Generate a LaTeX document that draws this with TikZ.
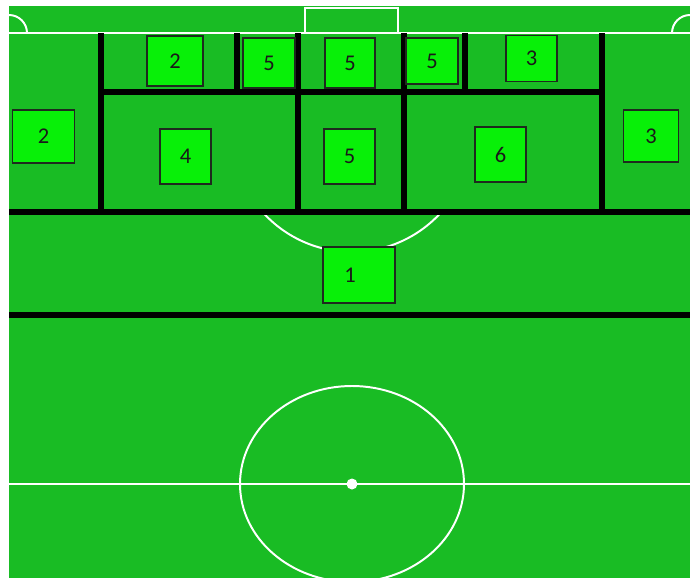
\documentclass[tikz,border=0pt]{standalone}
\usepackage{fontspec}
\setmainfont{Carlito}
\usepackage{tikz}
\usetikzlibrary{positioning}
\definecolor{pitch}{HTML}{19BC24}
\definecolor{lime}{HTML}{08F008}
\definecolor{edge}{HTML}{1E2A1E}

\begin{document}
\begin{tikzpicture}[x=0.025cm, y=-0.025cm,
    chalk/.style={white, line width=1.4pt},
    split/.style={black, line width=3.6pt},
    zone/.style={draw=edge, fill=lime, line width=0.9pt, inner sep=0pt,
                 font=\fontsize{16}{16}\selectfont, text=black!90}]
  \fill[white] (0,0) rectangle (690,578);
  \useasboundingbox (0,0) rectangle (690,578);
  \fill[pitch] (9,6) rectangle (690,578);
  % pitch markings
  \begin{scope}
    \clip (9,6) rectangle (690,578);
    \draw[chalk] (9,33) -- (690,33);
    \draw[chalk] (305,33) -- (305,8) -- (398,8) -- (398,33);
    \draw[chalk] (27,33) arc[start angle=0, end angle=-90, radius=18];
    \draw[chalk] (672,33) arc[start angle=180, end angle=270, radius=18];
    \draw[chalk] (262.8,212.3) arc[start angle=138, end angle=42, radius=120];
    \draw[chalk] (9,484) -- (690,484);
    \draw[chalk] (352,484) ellipse[x radius=112, y radius=98];
    \fill[white] (352,484) circle (5.5);
  \end{scope}
  % zone borders
  \draw[split] (9,212) -- (690,212);
  \draw[split] (9,315) -- (690,315);
  \draw[split] (101,92) -- (602,92);
  \foreach \xv in {101,298,404,602}
    \draw[split] (\xv,33) -- (\xv,213);
  \foreach \xv in {237,465}
    \draw[split] (\xv,33) -- (\xv,92);
  % zones
  \foreach \nm/\cx/\cy/\w/\h/\lbl in {
      zTopL/175/61/56/50/2, zTopA/269/63/52/50/5, zTopB/350/63/50/50/5,
      zTopC/432/61/52/46/5, zTopR/531.5/58.5/51/46/3,
      zWingL/43.5/136.5/62/53/2, zHalfL/185.5/156.5/51/55/4,
      zMid/349.5/156.5/51/55/5, zHalfR/500.5/154.5/51/55/6,
      zWingR/651/136/55/52/3, zHole/359/275/72/56/1\kern0.45cm}
    \node[zone, minimum width=\w*0.025cm, minimum height=\h*0.025cm]
      (\nm) at (\cx,\cy) {\lbl};
\end{tikzpicture}
\end{document}
